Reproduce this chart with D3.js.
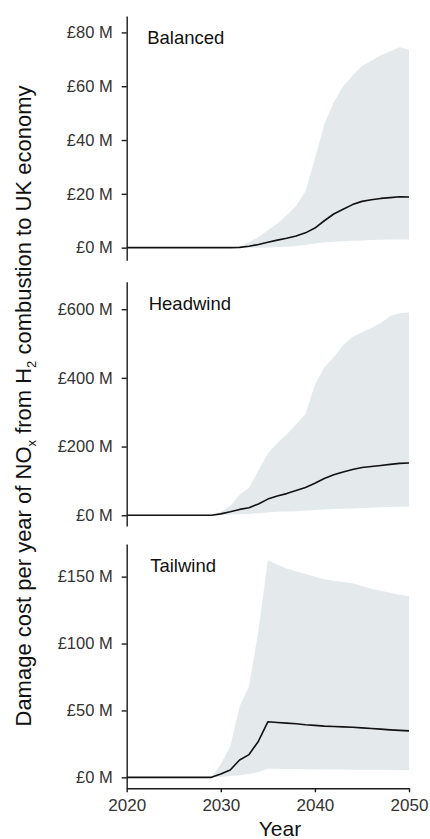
<!DOCTYPE html>
<html>
<head>
<meta charset="utf-8">
<script src="https://cdn.jsdelivr.net/npm/d3@7"></script>
<style>
  body { margin: 0; background: #fff; }
  svg { display: block; font-family: "Liberation Sans", Arial, sans-serif; }
  .axis path, .axis line { stroke: #1a1a1a; stroke-width: 1.4px; }
  .axis text { fill: #333; font-size: 16.5px; }
</style>
</head>
<body>
<div id="chart"></div>
<script>
// years on x axis
var years = d3.range(2020, 2051);

// scenario names (one panel each)
var scenarios = ["Balanced", "Headwind", "Tailwind"];

// mean damage cost and uncertainty band, £ M
var balancedMean = [0,0,0,0,0,0,0,0,0,0,0,0,0.1,0.5,1.2,2.0,2.8,3.5,4.3,5.5,7.3,10.0,12.5,14.3,16.0,17.2,17.8,18.3,18.6,18.9,18.8];
var balancedLow  = [0,0,0,0,0,0,0,0,0,0,0,0,0,0,0,0.1,0.2,0.3,0.6,1.0,1.5,1.9,2.2,2.4,2.6,2.7,2.8,2.9,3.0,3.0,3.0];
var balancedHigh = [0,0,0,0,0,0,0,0,0,0,0,0,0.3,2.0,4.0,6.5,9.0,12.0,15.5,21.0,33.0,46.0,54.0,60.0,64.0,67.5,69.5,71.5,73.0,74.5,73.6];

var headwindMean = [0,0,0,0,0,0,0,0,0,0,4,10,17,22,33,47,56,63,72,81,93,107,118,126,133,139,142,145,148,151,152];
var headwindLow  = [0,0,0,0,0,0,0,0,0,0,1,2,3,4,6,8,10,11,12,14,15,17,18,19,20,21,22,23,24,25,25];
var headwindHigh = [0,0,0,0,0,0,0,0,0,0,10,27,60,80,130,180,210,235,265,295,380,430,460,495,520,533,545,560,580,588,590];

var tailwindMean = [0,0,0,0,0,0,0,0,0,0,2.5,5.5,13,17,27,41.5,41,40.5,40,39.3,38.8,38.3,38,37.7,37.4,37,36.5,36,35.5,35.1,34.7];
var tailwindLow  = [0,0,0,0,0,0,0,0,0,0,0.3,1,1.5,2.5,4,6.5,6.4,6.3,6.2,6.1,6,5.9,5.9,5.8,5.7,5.7,5.6,5.6,5.5,5.5,5.5];
var tailwindHigh = [0,0,0,0,0,0,0,0,0,0,10,23,53,68,110,162,159,156,154,152,150,148,147,146,145,143,141,139.5,138,136.5,135.5];

// y axis ranges and tick values per panel
var yDomains = [[-4.7, 86.1], [-31.3, 680], [-8.2, 174.4]];
var yTicks = [[0, 20, 40, 60, 80], [0, 200, 400, 600], [0, 50, 100, 150]];
var xTicks = [2020, 2030, 2040, 2050];

var means = [balancedMean, headwindMean, tailwindMean];
var lows = [balancedLow, headwindLow, tailwindLow];
var highs = [balancedHigh, headwindHigh, tailwindHigh];

var width = 430, height = 839;
var left = 126.7, right = 409;
var panelTops = [16, 281.7, 544];
var panelH = 244.3;

var svg = d3.select("#chart").append("svg")
  .attr("width", width)
  .attr("height", height);

var x = d3.scaleLinear()
  .domain([2020, 2050])
  .range([left, right]);

scenarios.forEach(function(name, p) {
  var top = panelTops[p];
  var y = d3.scaleLinear()
    .domain(yDomains[p])
    .range([top + panelH, top]);

  var rows = years.map(function(yr, i) {
    return {year: yr, mean: means[p][i], low: lows[p][i], high: highs[p][i]};
  });

  // uncertainty band
  svg.append("path")
    .datum(rows)
    .attr("fill", "#e4eaec")
    .attr("d", d3.area()
      .x(function(d) { return x(d.year); })
      .y0(function(d) { return y(d.low); })
      .y1(function(d) { return y(d.high); }));

  // mean line
  svg.append("path")
    .datum(rows)
    .attr("fill", "none")
    .attr("stroke", "#111")
    .attr("stroke-width", 1.6)
    .attr("stroke-linejoin", "round")
    .attr("d", d3.line()
      .x(function(d) { return x(d.year); })
      .y(function(d) { return y(d.mean); }));

  // y axis
  svg.append("g")
    .attr("class", "axis")
    .attr("transform", "translate(" + left + ",0)")
    .call(d3.axisLeft(y)
      .tickValues(yTicks[p])
      .tickSize(5)
      .tickPadding(9)
      .tickSizeOuter(0)
      .tickFormat(function(d) { return "£" + d + " M"; }));

  // panel label
  svg.append("text")
    .attr("x", left + 20.5 + p * 1.5)
    .attr("y", top + 28)
    .attr("font-size", 18.5)
    .attr("fill", "#111")
    .text(name);

  // x axis on the bottom panel only
  if (p === scenarios.length - 1) {
    svg.append("g")
      .attr("class", "axis")
      .attr("transform", "translate(0," + (top + panelH) + ")")
      .call(d3.axisBottom(x)
        .tickValues(xTicks)
        .tickSize(4)
        .tickPadding(7)
        .tickSizeOuter(0)
        .tickFormat(d3.format("d")))
      .selectAll("text")
      .style("font-size", "17px");
  }
});

// x title
svg.append("text")
  .attr("x", 280)
  .attr("y", 836)
  .attr("text-anchor", "middle")
  .attr("font-size", 21)
  .attr("fill", "#111")
  .text("Year");

// y title with subscripts
var yTitle = svg.append("text")
  .attr("transform", "translate(31,406) rotate(-90)")
  .attr("text-anchor", "middle")
  .attr("font-size", 22)
  .attr("fill", "#111");
yTitle.append("tspan").text("Damage cost per year of NO");
yTitle.append("tspan").attr("font-size", 13).attr("dy", 5).text("x");
yTitle.append("tspan").attr("dy", -5).text(" from H");
yTitle.append("tspan").attr("font-size", 13).attr("dy", 5).text("2");
yTitle.append("tspan").attr("dy", -5).text(" combustion to UK economy");
</script>
</body>
</html>
